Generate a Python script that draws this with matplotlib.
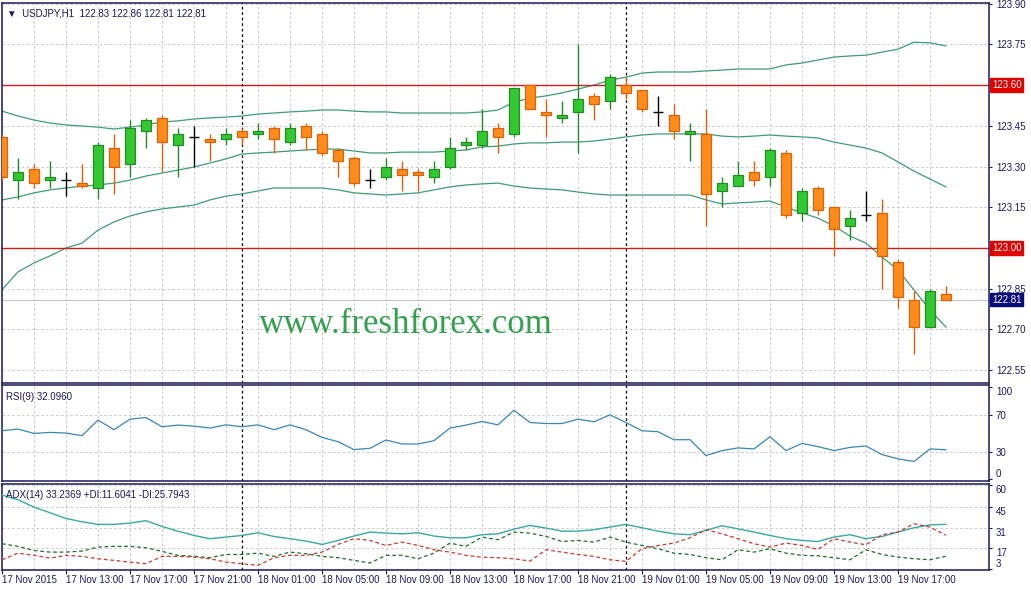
import matplotlib
matplotlib.use("Agg")
import matplotlib.pyplot as plt
import numpy as np

# ---------------- data ----------------
opens = [123.41, 123.25, 123.29, 123.25, 123.25, 123.24, 123.22, 123.37, 123.31, 123.43,
         123.48, 123.38, 123.41, 123.40, 123.40, 123.43, 123.42, 123.44, 123.39, 123.45,
         123.42, 123.36, 123.33, 123.25, 123.26, 123.29, 123.28, 123.26, 123.30, 123.38,
         123.38, 123.44, 123.42, 123.60, 123.50, 123.48, 123.50, 123.56, 123.54, 123.60,
         123.58, 123.50, 123.49, 123.42, 123.42, 123.21, 123.23, 123.28, 123.26, 123.35,
         123.13, 123.22, 123.15, 123.08, 123.12, 123.13, 122.95, 122.81, 122.71, 122.83]
highs = [123.42, 123.33, 123.31, 123.32, 123.28, 123.31, 123.39, 123.42, 123.47, 123.48,
         123.49, 123.44, 123.45, 123.42, 123.44, 123.44, 123.46, 123.45, 123.46, 123.46,
         123.43, 123.37, 123.34, 123.29, 123.33, 123.32, 123.29, 123.32, 123.41, 123.41,
         123.51, 123.46, 123.59, 123.60, 123.55, 123.54, 123.75, 123.57, 123.64, 123.63,
         123.58, 123.56, 123.53, 123.46, 123.51, 123.26, 123.32, 123.32, 123.37, 123.36,
         123.22, 123.23, 123.15, 123.14, 123.21, 123.18, 122.96, 122.84, 122.85, 122.86]
lows = [123.25, 123.18, 123.22, 123.22, 123.19, 123.22, 123.18, 123.20, 123.26, 123.37,
        123.28, 123.26, 123.30, 123.32, 123.38, 123.38, 123.40, 123.35, 123.38, 123.36,
        123.34, 123.26, 123.23, 123.22, 123.25, 123.21, 123.21, 123.24, 123.29, 123.36,
        123.37, 123.35, 123.41, 123.51, 123.41, 123.46, 123.35, 123.47, 123.51, 123.55,
        123.50, 123.45, 123.40, 123.32, 123.08, 123.15, 123.23, 123.23, 123.23, 123.11,
        123.10, 123.12, 122.97, 123.03, 123.10, 122.85, 122.78, 122.61, 122.71, 122.81]
closes = [123.26, 123.28, 123.24, 123.26, 123.25, 123.23, 123.38, 123.30, 123.44, 123.47,
          123.39, 123.42, 123.41, 123.39, 123.42, 123.41, 123.43, 123.40, 123.44, 123.41,
          123.35, 123.32, 123.24, 123.25, 123.30, 123.27, 123.27, 123.29, 123.37, 123.39,
          123.43, 123.41, 123.59, 123.51, 123.49, 123.49, 123.55, 123.53, 123.63, 123.57,
          123.51, 123.50, 123.43, 123.43, 123.20, 123.24, 123.27, 123.25, 123.36, 123.12,
          123.21, 123.14, 123.07, 123.11, 123.12, 122.97, 122.82, 122.71, 122.84, 122.81]

bb_upper = [123.504, 123.486, 123.471, 123.460, 123.453, 123.449, 123.445, 123.438, 123.445, 123.453,
            123.464, 123.468, 123.475, 123.479, 123.482, 123.486, 123.493, 123.497, 123.501, 123.504,
            123.508, 123.508, 123.504, 123.501, 123.501, 123.497, 123.497, 123.497, 123.497, 123.497,
            123.501, 123.508, 123.537, 123.552, 123.560, 123.571, 123.585, 123.600, 123.618, 123.629,
            123.644, 123.648, 123.648, 123.648, 123.652, 123.655, 123.659, 123.659, 123.659, 123.674,
            123.681, 123.692, 123.703, 123.707, 123.710, 123.721, 123.732, 123.758, 123.755, 123.744]
bb_mid = [123.177, 123.188, 123.203, 123.214, 123.221, 123.228, 123.232, 123.239, 123.250, 123.265,
          123.276, 123.287, 123.298, 123.313, 123.328, 123.346, 123.350, 123.353, 123.357, 123.361,
          123.364, 123.364, 123.357, 123.350, 123.350, 123.353, 123.353, 123.353, 123.357, 123.361,
          123.372, 123.375, 123.383, 123.387, 123.387, 123.390, 123.390, 123.394, 123.401, 123.409,
          123.416, 123.420, 123.420, 123.420, 123.420, 123.412, 123.409, 123.412, 123.416, 123.412,
          123.409, 123.405, 123.390, 123.379, 123.368, 123.350, 123.317, 123.283, 123.254, 123.225]
bb_lower = [122.846, 122.912, 122.945, 122.971, 123.000, 123.018, 123.066, 123.096, 123.118, 123.133,
            123.144, 123.151, 123.158, 123.177, 123.191, 123.199, 123.210, 123.221, 123.221, 123.221,
            123.221, 123.214, 123.203, 123.199, 123.195, 123.199, 123.203, 123.214, 123.225, 123.232,
            123.236, 123.239, 123.228, 123.221, 123.217, 123.214, 123.206, 123.199, 123.195, 123.195,
            123.195, 123.195, 123.195, 123.195, 123.177, 123.162, 123.166, 123.169, 123.173, 123.151,
            123.129, 123.110, 123.081, 123.044, 123.018, 122.967, 122.919, 122.846, 122.772, 122.709]

rsi = [52.7, 54.5, 49.8, 50.9, 50.2, 47.3, 64.2, 53.8, 65.2, 67.0,
       57.0, 58.8, 57.7, 55.6, 59.1, 57.0, 59.1, 53.8, 59.1, 53.8,
       45.5, 40.9, 32.3, 33.7, 42.7, 38.4, 38.4, 41.9, 55.6, 58.8,
       62.7, 59.1, 74.9, 61.6, 60.5, 60.5, 65.2, 62.4, 69.9, 61.6,
       52.7, 51.6, 43.0, 43.0, 25.8, 31.2, 34.1, 33.0, 46.2, 31.2,
       39.0, 35.5, 31.2, 34.7, 36.2, 26.9, 22.3, 19.4, 33.0, 32.1]

adx = [53.1, 49.9, 44.9, 41.1, 37.2, 35.0, 33.2, 33.2, 34.1, 35.7,
       31.8, 28.6, 25.7, 23.5, 24.6, 25.7, 27.5, 25.0, 23.5, 21.9,
       19.6, 22.3, 25.3, 28.0, 27.3, 26.8, 27.5, 25.3, 24.1, 24.1,
       26.2, 26.8, 30.0, 32.5, 30.7, 28.6, 28.6, 29.6, 31.4, 33.2,
       30.9, 28.6, 26.8, 26.2, 29.1, 32.3, 30.2, 28.0, 25.7, 23.5,
       22.3, 21.6, 24.6, 26.2, 23.5, 25.0, 28.0, 30.9, 32.9, 33.24]
plus_di = [20.1, 18.3, 15.5, 14.4, 14.4, 15.1, 17.8, 18.3, 18.3, 17.4,
           14.9, 12.2, 11.5, 10.6, 12.8, 12.8, 13.7, 11.5, 14.4, 13.3,
           11.5, 10.6, 8.8, 7.0, 12.2, 12.2, 9.9, 13.7, 20.5, 18.3,
           24.6, 22.8, 28.0, 27.3, 25.0, 21.6, 22.3, 21.2, 24.6, 21.2,
           18.9, 16.7, 13.7, 12.8, 10.6, 9.2, 16.0, 14.4, 16.7, 13.7,
           12.2, 11.9, 10.6, 9.2, 16.0, 12.8, 11.0, 9.9, 9.2, 11.6]
minus_di = [9.2, 13.7, 12.2, 10.3, 12.2, 11.5, 9.9, 8.8, 7.6, 6.5,
            11.5, 11.5, 11.0, 9.9, 7.6, 6.5, 5.4, 10.6, 12.2, 12.2,
            14.4, 19.6, 23.5, 22.3, 18.9, 21.2, 18.9, 16.0, 14.4, 12.2,
            11.0, 10.6, 9.9, 8.3, 16.0, 14.4, 12.8, 11.5, 9.2, 8.1,
            16.7, 18.9, 20.5, 24.1, 29.6, 26.8, 23.5, 20.1, 17.8, 20.5,
            18.9, 16.2, 23.5, 21.2, 19.4, 26.2, 28.0, 33.6, 31.4, 25.8]

price_ticks = [123.90, 123.75, 123.60, 123.45, 123.30, 123.15, 123.00, 122.85, 122.70, 122.55]
levels = [123.60, 123.00]
rsi_ticks = [0, 30, 70, 100]
rsi_levels = [30, 70]
adx_ticks = [3, 17, 31, 45, 60]
day_breaks = [15, 39]
x_tick_pos = list(range(0, 57, 4))
x_tick_labels = ["17 Nov 2015", "17 Nov 13:00", "17 Nov 17:00", "17 Nov 21:00",
                 "18 Nov 01:00", "18 Nov 05:00", "18 Nov 09:00", "18 Nov 13:00",
                 "18 Nov 17:00", "18 Nov 21:00", "19 Nov 01:00", "19 Nov 05:00",
                 "19 Nov 09:00", "19 Nov 13:00", "19 Nov 17:00"]

# ---------------- style ----------------
W, H, DPI = 1031, 589, 100
NAVY = "#1a1a5a"
GRID = "#c8c8c8"
FONT = ["Liberation Sans", "DejaVu Sans"]
plt.rcParams["font.family"] = FONT
plt.rcParams["font.size"] = 7

fig = plt.figure(figsize=(W / DPI, H / DPI), dpi=DPI, facecolor="white")


def px_axes(left, top, right, bottom):
    return fig.add_axes([left / W, 1 - bottom / H, (right - left) / W, (bottom - top) / H])


ax = px_axes(1.5, 3, 989, 383)
ax_rsi = px_axes(1.5, 385, 989, 481)
ax_adx = px_axes(1.5, 484, 989, 569.5)

idx = np.arange(len(opens))
o, h, l, c = map(np.array, (opens, highs, lows, closes))

for a in (ax, ax_rsi, ax_adx):
    a.set_xlim(-0.03, 61.69)
    a.set_facecolor("white")
    for s in a.spines.values():
        s.set_color(NAVY)
        s.set_linewidth(1.1)
    a.yaxis.tick_right()
    a.tick_params(axis="y", direction="out", length=2.5, width=0.8, color=NAVY,
                  labelcolor=NAVY, labelsize=7, pad=2.5)
    a.set_xticks(x_tick_pos)
    a.set_xticks(list(range(2, 61, 4)), minor=True)
    a.tick_params(axis="x", which="minor", length=0)
    a.grid(True, axis="x", which="both", color=GRID, lw=0.7, ls=(0, (2.5, 2.5)))
    for d in day_breaks:
        a.axvline(d, color="black", lw=0.9, ls=(0, (2.2, 2.2)), zorder=2)

for a in (ax, ax_rsi):
    a.tick_params(axis="x", which="major", length=0, labelbottom=False)

# ---------------- main price panel ----------------
ax.set_ylim(122.503, 123.902)
ax.set_yticks(price_ticks)
# levels carry their own boxed labels, so their plain tick labels stay empty
ax.set_yticklabels(["" if p in levels else f"{p:.2f}" for p in price_ticks])
ax.grid(True, axis="y", color=GRID, lw=0.7, ls=(0, (2.5, 2.5)))
ax.set_axisbelow(True)

BB_COL = "#3f9c74"
ax.plot(idx, bb_upper, color=BB_COL, lw=0.9, zorder=2)
ax.plot(idx, bb_mid, color=BB_COL, lw=0.9, zorder=2)
ax.plot(idx, bb_lower, color=BB_COL, lw=0.9, zorder=2)

for lv in levels:
    ax.axhline(lv, color="#c81e1e", lw=1.0, zorder=2)
ax.axhline(c[-1], color="#c8c8c8", lw=0.9, zorder=1.5)

G_FILL, G_EDGE = "#32c832", "#238b23"
R_FILL, R_EDGE = "#ff8c1a", "#d9620a"
BW = 0.62
up = c > o
dn = c < o
dj = c == o
ax.vlines(idx[up], l[up], h[up], color=G_EDGE, lw=1.0, zorder=3)
ax.bar(idx[up], c[up] - o[up], bottom=o[up], width=BW, color=G_FILL,
       edgecolor=G_EDGE, lw=0.9, zorder=4)
ax.vlines(idx[dn], l[dn], h[dn], color=R_EDGE, lw=1.0, zorder=3)
ax.bar(idx[dn], o[dn] - c[dn], bottom=c[dn], width=BW, color=R_FILL,
       edgecolor=R_EDGE, lw=0.9, zorder=4)
ax.vlines(idx[dj], l[dj], h[dj], color="black", lw=1.0, zorder=3)
ax.hlines(o[dj], idx[dj] - 0.34, idx[dj] + 0.34, color="black", lw=1.0, zorder=3)

for lv in levels:
    ax.annotate(f"{lv:.2f}", xy=(1, lv), xycoords=("axes fraction", "data"),
                xytext=(2.2, 0), textcoords="offset points", va="center", ha="left",
                color="white", fontsize=7, annotation_clip=False, zorder=10,
                bbox=dict(boxstyle="square,pad=0.18", fc="#e00000", ec="#e00000"))
ax.annotate(f"{c[-1]:.2f}", xy=(1, c[-1]), xycoords=("axes fraction", "data"),
            xytext=(2.2, 0), textcoords="offset points", va="center", ha="left",
            color="white", fontsize=7, annotation_clip=False, zorder=10,
            bbox=dict(boxstyle="square,pad=0.18", fc="#0a0a78", ec="#0a0a78"))

ax.annotate(f"\u25bc  USDJPY,H1  {o[-1]:.2f} {h[-1]:.2f} {l[-1]:.2f} {c[-1]:.2f}",
            xy=(0, 1), xycoords="axes fraction", xytext=(4, -4), textcoords="offset points",
            va="top", ha="left", color=NAVY, fontsize=7, family=FONT)

ax.text(0.409, 0.155, "www.freshforex.com", transform=ax.transAxes, ha="center",
        va="center", fontsize=25, color="#34a04f", family=["Liberation Serif", "DejaVu Serif"],
        zorder=1)

# ---------------- RSI panel ----------------
ax_rsi.set_ylim(-1.7, 102.2)
ax_rsi.set_yticks(rsi_ticks)
ax_rsi.set_yticklabels([str(t) for t in rsi_ticks])
for lv in rsi_levels:
    ax_rsi.axhline(lv, color=GRID, lw=0.7, ls=(0, (2.5, 2.5)), zorder=1)
ax_rsi.plot(idx, rsi, color="#3a87b0", lw=0.9, zorder=3)
ax_rsi.text(0.005, 0.93, "RSI(9) 32.0960", transform=ax_rsi.transAxes, va="top",
            ha="left", color=NAVY, fontsize=7)
for t, lab in zip(rsi_ticks, ax_rsi.get_yticklabels()):
    if t == 100:
        lab.set_verticalalignment("top")
    elif t == 0:
        lab.set_verticalalignment("bottom")

# ---------------- ADX panel ----------------
ax_adx.set_ylim(2.6, 60.6)
ax_adx.set_yticks(adx_ticks)
ax_adx.set_yticklabels([str(t) for t in adx_ticks])
ax_adx.grid(True, axis="y", color=GRID, lw=0.7, ls=(0, (2.5, 2.5)))
ax_adx.set_axisbelow(True)
ax_adx.plot(idx, adx, color="#3aa8a0", lw=1.0, zorder=3)
ax_adx.plot(idx, plus_di, color="#1e6e28", lw=0.9, ls=(0, (3, 2.2)), zorder=3)
ax_adx.plot(idx, minus_di, color="#c83a32", lw=0.9, ls=(0, (3, 2.2)), zorder=3)
ax_adx.text(0.005, 0.93, "ADX(14) 33.2369 +DI:11.6041 -DI:25.7943",
            transform=ax_adx.transAxes, va="top", ha="left", color=NAVY, fontsize=7)
for t, lab in zip(adx_ticks, ax_adx.get_yticklabels()):
    lab.set_verticalalignment("bottom" if t == 3 else "top")

ax_adx.set_xticklabels(x_tick_labels, ha="left")
ax_adx.tick_params(axis="x", which="major", direction="out", length=3, width=0.8,
                   color=NAVY, labelcolor=NAVY, labelsize=7, pad=1)

fig.savefig("out.png", dpi=DPI, facecolor="white")
